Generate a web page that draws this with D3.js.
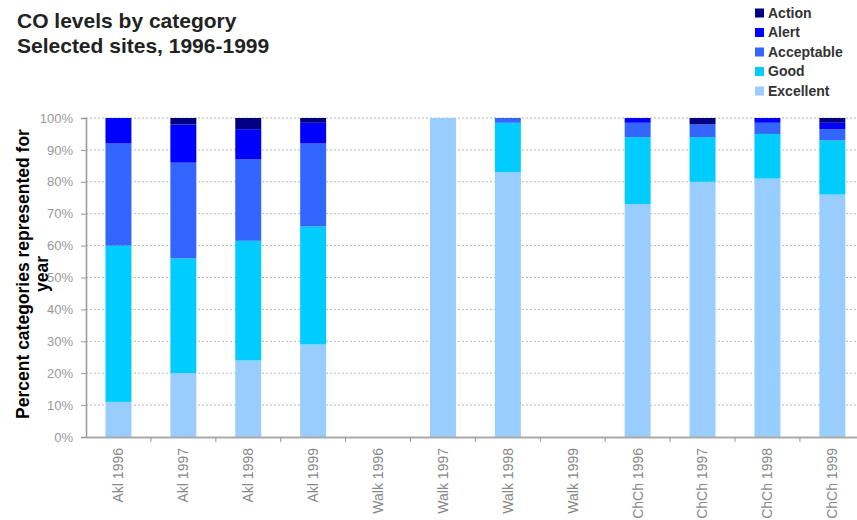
<!DOCTYPE html>
<html>
<head>
<meta charset="utf-8">
<script src="https://cdn.jsdelivr.net/npm/d3@7"></script>
<style>
  body { margin: 0; background: #fff; }
  text { font-family: "Liberation Sans", Arial, sans-serif; }
</style>
</head>
<body>
<div id="chart"></div>
<script>
// categories along the x axis
const sites = ['Akl 1996', 'Akl 1997', 'Akl 1998', 'Akl 1999',
    'Walk 1996', 'Walk 1997', 'Walk 1998', 'Walk 1999',
    'ChCh 1996', 'ChCh 1997', 'ChCh 1998', 'ChCh 1999'];

// stacking order, bottom to top
const levels = ['Excellent', 'Good', 'Acceptable', 'Alert', 'Action'];
const levelColors = ['#99ccff', '#00ccff', '#3366ff', '#0000ff', '#000080'];

// percent of year in each category (per site)
const excellent  = [11, 20, 24, 29, 0, 100, 83, 0, 73, 80, 81, 76];
const good       = [49, 36, 37.5, 37, 0, 0, 15.5, 0, 21, 14, 14, 17];
const acceptable = [32, 30, 25.5, 26, 0, 0, 1.5, 0, 4.5, 4, 3.5, 3.5];
const alert      = [8, 12, 9.5, 6.5, 0, 0, 0, 0, 1.5, 0, 1.5, 2];
const action     = [0, 2, 3.5, 1.5, 0, 0, 0, 0, 0, 2, 0, 1.5];

const yTicks = [0, 10, 20, 30, 40, 50, 60, 70, 80, 90, 100];

const width = 857, height = 520;
const margin = { top: 118, left: 86, bottom: 83 };
const plotW = 12 * 64.9;
const plotH = height - margin.top - margin.bottom;

const svg = d3.select('#chart').append('svg')
    .attr('width', width)
    .attr('height', height);

const rows = sites.map((s, i) => ({
    site: s,
    Excellent: excellent[i], Good: good[i], Acceptable: acceptable[i],
    Alert: alert[i], Action: action[i]
}));

const x = d3.scaleBand()
    .domain(sites)
    .range([margin.left, margin.left + plotW])
    .paddingInner(0.6)
    .paddingOuter(0.3);

const y = d3.scaleLinear()
    .domain([0, 100])
    .range([margin.top + plotH, margin.top]);

const color = d3.scaleOrdinal().domain(levels).range(levelColors);

// dotted gridlines
svg.append('g')
    .selectAll('line')
    .data(yTicks.filter(d => d > 0))
    .enter()
    .append('line')
    .attr('x1', margin.left)
    .attr('x2', margin.left + plotW)
    .attr('y1', d => y(d))
    .attr('y2', d => y(d))
    .attr('stroke', '#b8b8b8')
    .attr('stroke-width', 1)
    .attr('stroke-dasharray', '2,2');

// stacked bars
const series = d3.stack().keys(levels)(rows);

svg.append('g')
    .selectAll('g')
    .data(series)
    .enter()
    .append('g')
    .attr('fill', d => color(d.key))
    .selectAll('rect')
    .data(d => d)
    .enter()
    .append('rect')
    .attr('x', d => x(d.data.site))
    .attr('width', x.bandwidth())
    .attr('y', d => y(d[1]))
    .attr('height', d => y(d[0]) - y(d[1]));

// y axis
const yAxis = d3.axisLeft(y)
    .tickValues(yTicks)
    .tickSize(5)
    .tickPadding(8)
    .tickFormat(d => d + '%');

const gy = svg.append('g')
    .attr('transform', `translate(${margin.left},0)`)
    .call(yAxis);
gy.select('.domain').attr('stroke', '#999').attr('stroke-width', 1.5);
gy.selectAll('.tick line').attr('stroke', '#999');
gy.selectAll('.tick text')
    .attr('fill', '#999')
    .style('font-size', '13px')
    .style('font-family', '"Liberation Sans", Arial, sans-serif');

// x axis
const xAxis = d3.axisBottom(x).tickSize(0).tickPadding(0);
const gx = svg.append('g')
    .attr('transform', `translate(0,${margin.top + plotH})`)
    .call(xAxis);
gx.select('.domain').attr('stroke', '#aaa').attr('stroke-width', 2);
gx.selectAll('.tick text')
    .attr('fill', '#888')
    .style('font-size', '14px')
    .style('font-family', '"Liberation Sans", Arial, sans-serif')
    .attr('text-anchor', 'end')
    .attr('transform', 'rotate(-90)')
    .attr('x', -11)
    .attr('y', 0)
    .attr('dy', '0.35em');

// tick marks between categories
svg.append('g')
    .selectAll('line')
    .data(sites.slice(1))
    .enter()
    .append('line')
    .attr('x1', d => x(d) - x.step() * x.paddingInner() / 2)
    .attr('x2', d => x(d) - x.step() * x.paddingInner() / 2)
    .attr('y1', margin.top + plotH)
    .attr('y2', margin.top + plotH + 5)
    .attr('stroke', '#999');

// title
svg.append('text')
    .attr('x', 17)
    .attr('y', 28)
    .style('font-size', '21px')
    .style('font-weight', 'bold')
    .attr('fill', '#222')
    .text('CO levels by category');
svg.append('text')
    .attr('x', 17)
    .attr('y', 53)
    .style('font-size', '21px')
    .style('font-weight', 'bold')
    .attr('fill', '#222')
    .text('Selected sites, 1996-1999');

// y axis title
const yTitle = svg.append('text')
    .attr('transform', 'translate(23,274) rotate(-90)')
    .attr('text-anchor', 'middle')
    .style('font-size', '17.5px')
    .style('font-weight', 'bold')
    .attr('fill', '#000');
yTitle.append('tspan').attr('x', 0).attr('dy', '0.35em').text('Percent categories represented for');
yTitle.append('tspan').attr('x', 0).attr('dy', '1.05em').text('year');

// legend, top to bottom reversed from stack order
const legendItems = levels.slice().reverse();
const legend = svg.append('g')
    .selectAll('g')
    .data(legendItems)
    .enter()
    .append('g')
    .attr('transform', (d, i) => `translate(755,${13 + i * 19.5})`);

legend.append('rect')
    .attr('x', 0)
    .attr('y', -4.5)
    .attr('width', 9)
    .attr('height', 9)
    .attr('fill', d => color(d));

legend.append('text')
    .attr('x', 13)
    .attr('y', 0)
    .attr('dy', '0.35em')
    .style('font-size', '14px')
    .style('font-weight', 'bold')
    .attr('fill', '#333')
    .text(d => d);
</script>
</body>
</html>
